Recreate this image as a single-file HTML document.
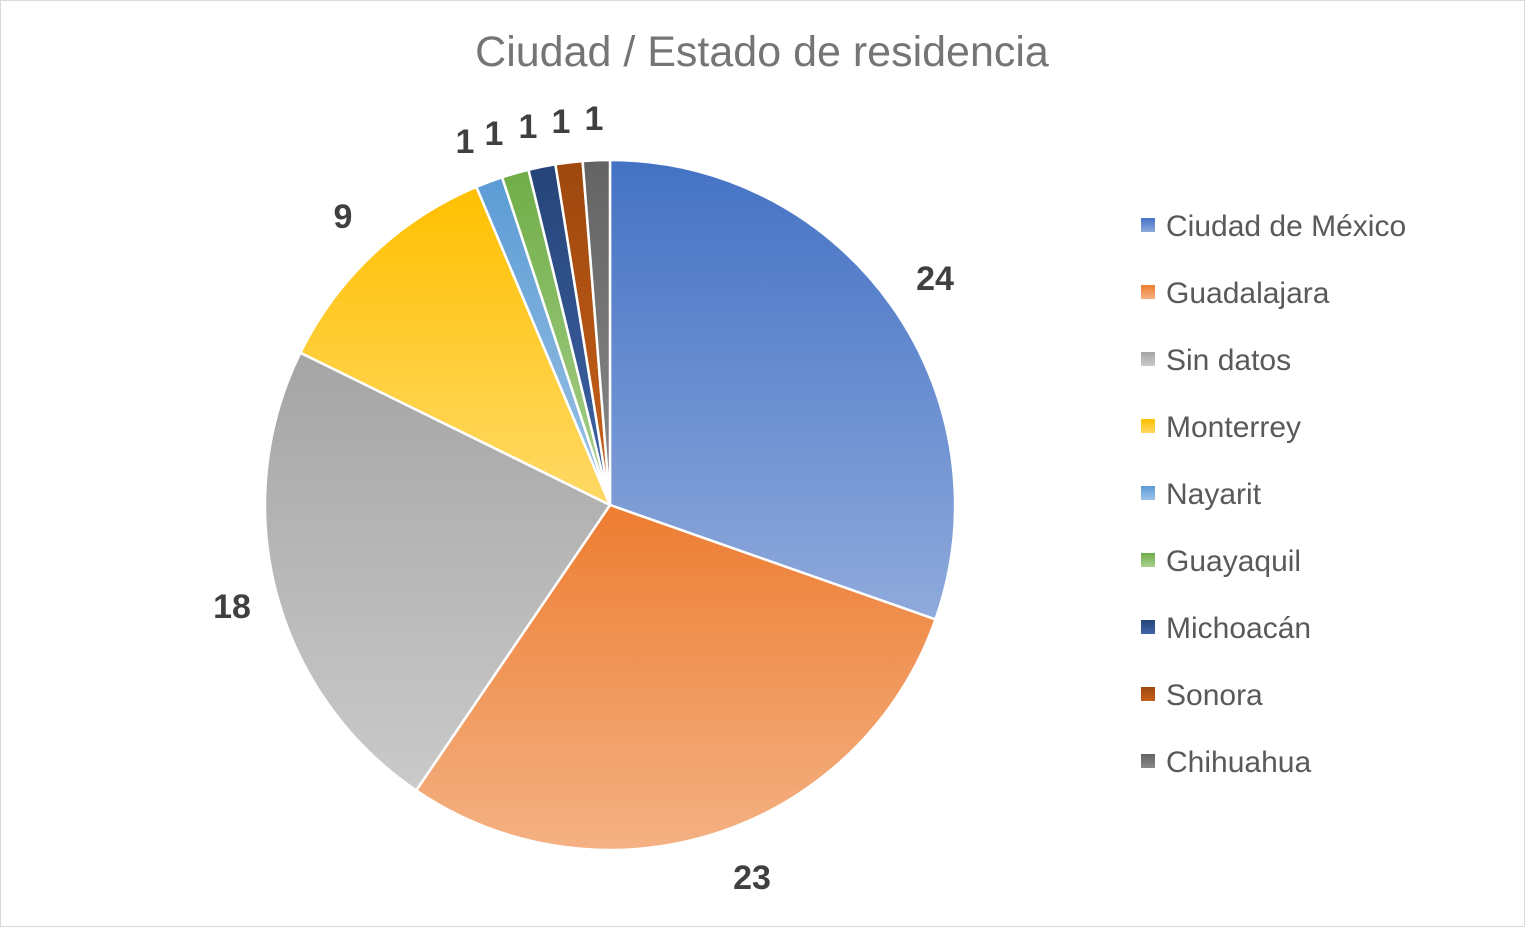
<!DOCTYPE html>
<html><head><meta charset="utf-8"><style>
html,body{margin:0;padding:0;background:#fff}
svg{display:block}
</style></head><body>
<svg width="1525" height="927" viewBox="0 0 1525 927" xmlns="http://www.w3.org/2000/svg" font-family="'Liberation Sans', sans-serif">
<defs>
<linearGradient id="g1" x1="0" y1="0" x2="0" y2="1"><stop offset="0" stop-color="#4472C4"/><stop offset="1" stop-color="#8FAADC"/></linearGradient>
<linearGradient id="g2" x1="0" y1="0" x2="0" y2="1"><stop offset="0" stop-color="#ED7D31"/><stop offset="1" stop-color="#F4B183"/></linearGradient>
<linearGradient id="g3" x1="0" y1="0" x2="0" y2="1"><stop offset="0" stop-color="#A5A5A5"/><stop offset="1" stop-color="#CACACA"/></linearGradient>
<linearGradient id="g4" x1="0" y1="0" x2="0" y2="1"><stop offset="0" stop-color="#FFC000"/><stop offset="1" stop-color="#FFD966"/></linearGradient>
<linearGradient id="g5" x1="0" y1="0" x2="0" y2="1"><stop offset="0" stop-color="#5B9BD5"/><stop offset="1" stop-color="#9DC3E6"/></linearGradient>
<linearGradient id="g6" x1="0" y1="0" x2="0" y2="1"><stop offset="0" stop-color="#70AD47"/><stop offset="1" stop-color="#A9D18E"/></linearGradient>
<linearGradient id="g7" x1="0" y1="0" x2="0" y2="1"><stop offset="0" stop-color="#264478"/><stop offset="1" stop-color="#3F64A8"/></linearGradient>
<linearGradient id="g8" x1="0" y1="0" x2="0" y2="1"><stop offset="0" stop-color="#9E480E"/><stop offset="1" stop-color="#C8601A"/></linearGradient>
<linearGradient id="g9" x1="0" y1="0" x2="0" y2="1"><stop offset="0" stop-color="#636363"/><stop offset="1" stop-color="#8A8A8A"/></linearGradient>
</defs>
<rect x="0.5" y="0.5" width="1524" height="926" fill="#fff" stroke="#D9D9D9"/>
<text x="762" y="66" text-anchor="middle" font-size="43" fill="#757575">Ciudad / Estado de residencia</text>
<g stroke="#fff" stroke-width="2.5" stroke-linejoin="round">
<path d="M610,505 L610,160 A345,345 0 0 1 935.5,619.4 Z" fill="url(#g1)"/>
<path d="M610,505 L935.5,619.4 A345,345 0 0 1 416.2,790.4 Z" fill="url(#g2)"/>
<path d="M610,505 L416.2,790.4 A345,345 0 0 1 300.4,352.7 Z" fill="url(#g3)"/>
<path d="M610,505 L300.4,352.7 A345,345 0 0 1 476.4,186.9 Z" fill="url(#g4)"/>
<path d="M610,505 L476.4,186.9 A345,345 0 0 1 502.1,177.3 Z" fill="url(#g5)"/>
<path d="M610,505 L502.1,177.3 A345,345 0 0 1 528.5,169.8 Z" fill="url(#g6)"/>
<path d="M610,505 L528.5,169.8 A345,345 0 0 1 555.4,164.3 Z" fill="url(#g7)"/>
<path d="M610,505 L555.4,164.3 A345,345 0 0 1 582.6,161.1 Z" fill="url(#g8)"/>
<path d="M610,505 L582.6,161.1 A345,345 0 0 1 610,160 Z" fill="url(#g9)"/>
</g>
<g font-size="34" font-weight="bold" fill="#404040" text-anchor="middle">
<text x="935" y="290">24</text>
<text x="752" y="889">23</text>
<text x="232" y="618">18</text>
<text x="343" y="228">9</text>
<text x="465" y="153">1</text>
<text x="494" y="145">1</text>
<text x="528" y="138">1</text>
<text x="561" y="133">1</text>
<text x="594" y="130">1</text>
</g>
<g font-size="30" fill="#595959">
<rect x="1141" y="218" width="14" height="14" fill="url(#g1)"/><text x="1166" y="236">Ciudad de México</text>
<rect x="1141" y="285" width="14" height="14" fill="url(#g2)"/><text x="1166" y="303">Guadalajara</text>
<rect x="1141" y="352" width="14" height="14" fill="url(#g3)"/><text x="1166" y="370">Sin datos</text>
<rect x="1141" y="419" width="14" height="14" fill="url(#g4)"/><text x="1166" y="437">Monterrey</text>
<rect x="1141" y="486" width="14" height="14" fill="url(#g5)"/><text x="1166" y="504">Nayarit</text>
<rect x="1141" y="553" width="14" height="14" fill="url(#g6)"/><text x="1166" y="571">Guayaquil</text>
<rect x="1141" y="620" width="14" height="14" fill="url(#g7)"/><text x="1166" y="638">Michoacán</text>
<rect x="1141" y="687" width="14" height="14" fill="url(#g8)"/><text x="1166" y="705">Sonora</text>
<rect x="1141" y="754" width="14" height="14" fill="url(#g9)"/><text x="1166" y="772">Chihuahua</text>
</g>
</svg>
</body></html>
